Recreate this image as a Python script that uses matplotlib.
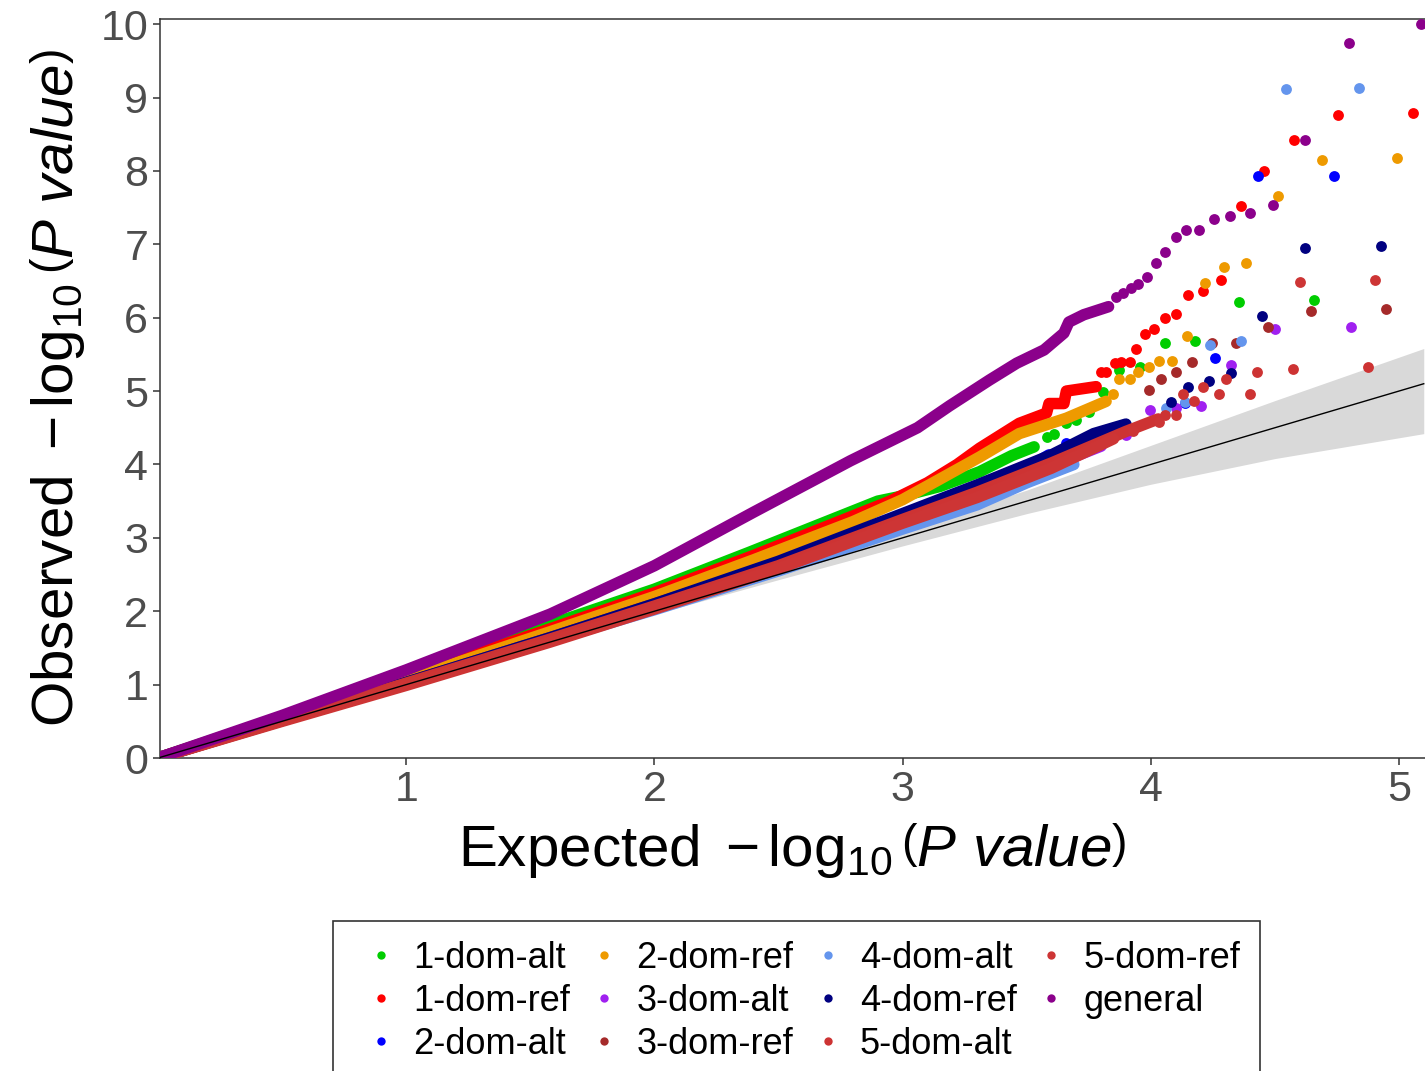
import numpy as np
import matplotlib
matplotlib.use("Agg")
import matplotlib.pyplot as plt
from matplotlib.lines import Line2D

plt.rcParams['font.family'] = ['Liberation Sans', 'DejaVu Sans']
plt.rcParams['mathtext.fontset'] = 'custom'
plt.rcParams['mathtext.rm'] = 'Liberation Sans'
plt.rcParams['mathtext.it'] = 'Liberation Sans:italic'
plt.rcParams['mathtext.default'] = 'rm'

# --- series: dense part (line of overlapping dots) + tail dots ---
labels = ["1-dom-alt", "1-dom-ref", "2-dom-alt", "2-dom-ref", "3-dom-alt", "3-dom-ref",
          "4-dom-alt", "4-dom-ref", "5-dom-alt", "5-dom-ref", "general"]
colors = ["#00CD00", "#FF0000", "#0000FF", "#EE9A00", "#A020F0", "#A52A2A",
          "#6495ED", "#000080", "#CD3333", "#CD3535", "#8B008B"]

alt1_dense_x = [0, 0.5, 1.0, 1.58, 2.0, 2.38, 2.9, 3.0, 3.15, 3.31, 3.44, 3.53]
alt1_dense_y = [0, 0.56, 1.14, 1.82, 2.3, 2.8, 3.5, 3.57, 3.7, 3.9, 4.12, 4.24]
alt1_tail_x = [3.58, 3.61, 3.66, 3.70, 3.753, 3.807, 3.874, 3.955, 4.057, 4.180, 4.354, 4.658]
alt1_tail_y = [4.38, 4.42, 4.56, 4.60, 4.72, 4.99, 5.29, 5.33, 5.65, 5.68, 6.22, 6.24]

ref1_dense_x = [0, 0.5, 1.0, 1.58, 2.0, 2.4, 2.95, 3.1, 3.22, 3.31, 3.47, 3.58, 3.59, 3.65, 3.66, 3.78]
ref1_dense_y = [0, 0.55, 1.1, 1.76, 2.25, 2.76, 3.5, 3.75, 4.0, 4.22, 4.56, 4.70, 4.83, 4.83, 5.0, 5.06]
ref1_tail_x = [3.80, 3.82, 3.854, 3.881, 3.915, 3.941, 3.978, 4.014, 4.057, 4.101, 4.152, 4.209,
               4.282, 4.362, 4.457, 4.579, 4.754, 5.058]
ref1_tail_y = [5.26, 5.26, 5.38, 5.40, 5.40, 5.57, 5.78, 5.85, 5.99, 6.05, 6.31, 6.36,
               6.51, 7.52, 8.00, 8.42, 8.765, 8.79]

alt2_dense_x = [0, 0.5, 1.0, 1.58, 2.0, 2.5, 3.0, 3.3, 3.5, 3.59]
alt2_dense_y = [0, 0.53, 1.06, 1.68, 2.14, 2.68, 3.3, 3.7, 3.95, 4.13]
alt2_tail_x = [3.66, 4.136, 4.260, 4.434, 4.739]
alt2_tail_y = [4.29, 4.84, 5.45, 7.93, 7.93]

ref2_dense_x = [0, 0.5, 1.0, 1.58, 2.0, 2.4, 2.8, 3.0, 3.15, 3.31, 3.47, 3.66, 3.82]
ref2_dense_y = [0, 0.54, 1.07, 1.72, 2.2, 2.7, 3.22, 3.52, 3.8, 4.1, 4.42, 4.63, 4.86]
ref2_tail_x = [3.847, 3.874, 3.915, 3.948, 3.992, 4.035, 4.087, 4.145, 4.217, 4.297, 4.385,
               4.513, 4.688, 4.993]
ref2_tail_y = [4.96, 5.17, 5.17, 5.26, 5.33, 5.41, 5.41, 5.75, 6.47, 6.69, 6.75,
               7.66, 8.15, 8.18]

alt3_dense_x = [0, 0.5, 1.0, 1.58, 2.0, 2.5, 3.0, 3.5, 3.8]
alt3_dense_y = [0, 0.52, 1.02, 1.62, 2.05, 2.6, 3.22, 3.85, 4.25]
alt3_tail_x = [3.901, 3.995, 4.103, 4.203, 4.324, 4.501, 4.805]
alt3_tail_y = [4.40, 4.74, 4.77, 4.79, 5.35, 5.84, 5.87]

ref3_dense_x = [0, 0.5, 1.0, 1.58, 2.0, 2.5, 3.0, 3.5, 3.9]
ref3_dense_y = [0, 0.52, 1.03, 1.64, 2.1, 2.65, 3.3, 3.95, 4.5]
ref3_tail_x = [3.993, 4.043, 4.101, 4.167, 4.245, 4.344, 4.472, 4.645, 4.949]
ref3_tail_y = [5.01, 5.16, 5.26, 5.39, 5.65, 5.65, 5.87, 6.09, 6.12]

alt4_dense_x = [0, 0.5, 1.0, 1.58, 2.0, 2.5, 3.0, 3.3, 3.5, 3.69]
alt4_dense_y = [0, 0.51, 1.01, 1.6, 2.02, 2.55, 3.12, 3.45, 3.75, 4.0]
alt4_tail_x = [4.062, 4.136, 4.239, 4.362, 4.543, 4.841]
alt4_tail_y = [4.77, 4.85, 5.63, 5.68, 9.11, 9.13]

ref4_dense_x = [0, 0.5, 1.0, 1.58, 2.0, 2.5, 3.0, 3.3, 3.6, 3.77, 3.9]
ref4_dense_y = [0, 0.52, 1.03, 1.64, 2.1, 2.68, 3.33, 3.72, 4.13, 4.42, 4.55]
ref4_tail_x = [4.080, 4.152, 4.233, 4.325, 4.449, 4.622, 4.927]
ref4_tail_y = [4.85, 5.06, 5.14, 5.25, 6.02, 6.95, 6.98]

alt5_dense_x = [0, 0.5, 1.0, 1.58, 2.0, 2.5, 3.0, 3.3, 3.6, 3.9, 4.03]
alt5_dense_y = [0, 0.51, 1.02, 1.62, 2.07, 2.62, 3.25, 3.62, 4.02, 4.45, 4.62]
alt5_tail_x = [4.057, 4.101, 4.131, 4.174, 4.210, 4.276, 4.305, 4.398, 4.427, 4.572, 4.877]
alt5_tail_y = [4.67, 4.67, 4.96, 4.87, 5.06, 4.96, 5.16, 4.96, 5.26, 5.30, 5.33]

ref5_dense_x = [0, 0.5, 1.0, 1.58, 2.0, 2.5, 3.0, 3.3, 3.6, 3.85]
ref5_dense_y = [0, 0.5, 0.99, 1.58, 2.03, 2.58, 3.2, 3.55, 3.95, 4.35]
ref5_tail_x = [3.93, 4.035, 4.601, 4.905]
ref5_tail_y = [4.45, 4.58, 6.49, 6.51]

gen_dense_x = [0, 0.5, 1.0, 1.58, 2.0, 2.4, 2.79, 3.06, 3.19, 3.35, 3.46, 3.57, 3.65, 3.67, 3.73, 3.83]
gen_dense_y = [0, 0.58, 1.2, 1.96, 2.62, 3.35, 4.05, 4.5, 4.8, 5.15, 5.38, 5.56, 5.79, 5.94, 6.04, 6.15]
gen_tail_x = [3.861, 3.888, 3.919, 3.948, 3.984, 4.022, 4.057, 4.101, 4.144, 4.196, 4.253,
              4.319, 4.398, 4.493, 4.623, 4.797, 5.089]
gen_tail_y = [6.28, 6.34, 6.41, 6.46, 6.56, 6.75, 6.90, 7.10, 7.19, 7.19, 7.34,
              7.39, 7.42, 7.54, 8.42, 9.745, 10.0]

# confidence band around the null line
band_x = [0, 1, 2, 2.5, 3, 3.5, 4, 4.5, 5.1]
band_hi = [0, 1.01, 2.04, 2.57, 3.11, 3.65, 4.26, 4.87, 5.58]
band_lo = [0, 0.99, 1.96, 2.43, 2.89, 3.33, 3.73, 4.08, 4.42]

dense = [(alt1_dense_x, alt1_dense_y), (ref1_dense_x, ref1_dense_y),
         (alt2_dense_x, alt2_dense_y), (ref2_dense_x, ref2_dense_y),
         (alt3_dense_x, alt3_dense_y), (ref3_dense_x, ref3_dense_y),
         (alt4_dense_x, alt4_dense_y), (ref4_dense_x, ref4_dense_y),
         (alt5_dense_x, alt5_dense_y), (ref5_dense_x, ref5_dense_y),
         (gen_dense_x, gen_dense_y)]
tails = [(alt1_tail_x, alt1_tail_y), (ref1_tail_x, ref1_tail_y),
         (alt2_tail_x, alt2_tail_y), (ref2_tail_x, ref2_tail_y),
         (alt3_tail_x, alt3_tail_y), (ref3_tail_x, ref3_tail_y),
         (alt4_tail_x, alt4_tail_y), (ref4_tail_x, ref4_tail_y),
         (alt5_tail_x, alt5_tail_y), (ref5_tail_x, ref5_tail_y),
         (gen_tail_x, gen_tail_y)]

fig = plt.figure(figsize=(14.25, 10.71), dpi=100)
ax = fig.add_axes([160 / 1425, 1 - 758 / 1071, 1 - 160 / 1425, (758 - 19) / 1071])

ax.fill_between(band_x, band_lo, band_hi, color="#D9D9D9", lw=0, zorder=1)

for i, (lab, col) in enumerate(zip(labels, colors)):
    dx, dy = dense[i]
    tx, ty = tails[i]
    ax.plot(dx, dy, color=col, lw=8.3, solid_capstyle='round', solid_joinstyle='round',
            zorder=2 + i * 0.1)
    ax.plot(tx, ty, 'o', color=col, ms=7.8, mec='none', zorder=2 + i * 0.1)

ax.plot(band_x, band_x, color="black", lw=1.0, zorder=5)

ax.set_xlim(0.008, 5.105)
ax.set_ylim(0, 10.07)
ax.set_xticks([1, 2, 3, 4, 5])
ax.set_yticks(range(0, 11))
ax.tick_params(labelsize=31, labelcolor="#4D4D4D", color="#333333", length=5, width=1.1)
for s in ["left", "bottom", "top"]:
    ax.spines[s].set_color("#333333")
    ax.spines[s].set_linewidth(1.1)
ax.spines["right"].set_visible(False)

ax.set_xlabel(r"Expected $\,{-}\,\log_{10}\left(\mathit{P\ value}\right)$", fontsize=42, labelpad=8)
ax.set_ylabel(r"Observed $\,{-}\,\log_{10}\left(\mathit{P\ value}\right)$", fontsize=42, labelpad=10)

handles = [Line2D([], [], marker='o', ls='none', color=c, ms=6, mec='none', label=l)
           for l, c in zip(labels, colors)]
leg = fig.legend(handles=handles, ncol=4, loc='upper left',
                 bbox_to_anchor=(333 / 1425, 1 - 921 / 1071), fontsize=26,
                 frameon=True, fancybox=False, edgecolor="black", borderpad=0.55,
                 handlelength=1.55, handletextpad=0.12, columnspacing=0.17, labelspacing=0.22,
                 borderaxespad=0)
leg.get_frame().set_linewidth(1.2)

fig.savefig("out.png", dpi=100)
